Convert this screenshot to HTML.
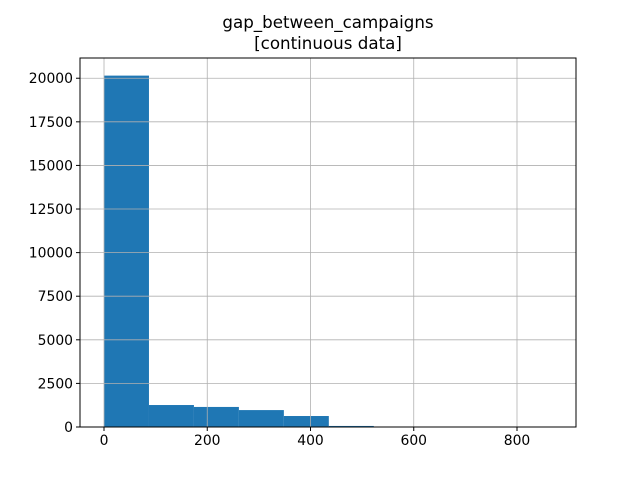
<!DOCTYPE html>
<html><head><meta charset="utf-8"><style>body{margin:0;background:#fff}svg{display:block;font-family:"DejaVu Sans","Liberation Sans",sans-serif}</style></head>
<body>
<svg id="c" width="640" height="480"></svg>
<script>
const binEdgesStart = 0;
const binWidth = 87.1;
const counts = [20150, 1260, 1150, 970, 630, 60, 8, 4, 2, 2];
const xTicks = [0, 200, 400, 600, 800];
const yTicks = [0, 2500, 5000, 7500, 10000, 12500, 15000, 17500, 20000];
const L=80,R=576,T=58,B=427;
const xmin=-46.5,xmax=914.3,ymin=0,ymax=21160;
const sx=v=>L+(v-xmin)/(xmax-xmin)*(R-L);
const sy=v=>B-(v-ymin)/(ymax-ymin)*(B-T);
const svg=document.getElementById('c');const NS='http://www.w3.org/2000/svg';
function mk(t,a,p){const e=document.createElementNS(NS,t);for(const k in a)e.setAttribute(k,a[k]);(p||svg).appendChild(e);return e;}
let e;
e=mk('rect',{x:L,y:T,width:R-L,height:B-T,fill:'#fff'});


const bars=mk('g',{fill:'#1f77b4'});


counts.forEach((c,i)=>{const x0=binEdgesStart+i*binWidth,x1=x0+binWidth;
 const r=mk('rect',{x:sx(x0),y:sy(c),width:sx(x1)-sx(x0),height:sy(0)-sy(c)},bars);
 
 });
const grid=mk('g',{stroke:'#b0b0b0','stroke-width':0.8});


xTicks.forEach(v=>mk('line',{x1:sx(v),x2:sx(v),y1:T,y2:B},grid));
yTicks.forEach(v=>mk('line',{x1:L,x2:R,y1:sy(v),y2:sy(v)},grid));
e=mk('rect',{x:L,y:T,width:R-L,height:B-T,fill:'none',stroke:'#000','stroke-width':1});


xTicks.forEach(v=>{mk('line',{x1:sx(v),x2:sx(v),y1:B,y2:B+4,stroke:'#000'});
 const t=mk('text',{x:sx(v),y:B+18,'text-anchor':'middle','font-size':13.9});t.textContent=v;
 
 });
yTicks.forEach(v=>{mk('line',{x1:L-4,x2:L,y1:sy(v),y2:sy(v),stroke:'#000'});
 const t=mk('text',{x:L-7,y:sy(v)+5,'text-anchor':'end','font-size':13.9});t.textContent=v;
 
 });
e=mk('text',{x:328,y:28,'text-anchor':'middle','font-size':16.7});e.textContent='gap_between_campaigns';


e=mk('text',{x:328,y:49,'text-anchor':'middle','font-size':16.7});e.textContent='[continuous data]';


</script>
</body></html>
